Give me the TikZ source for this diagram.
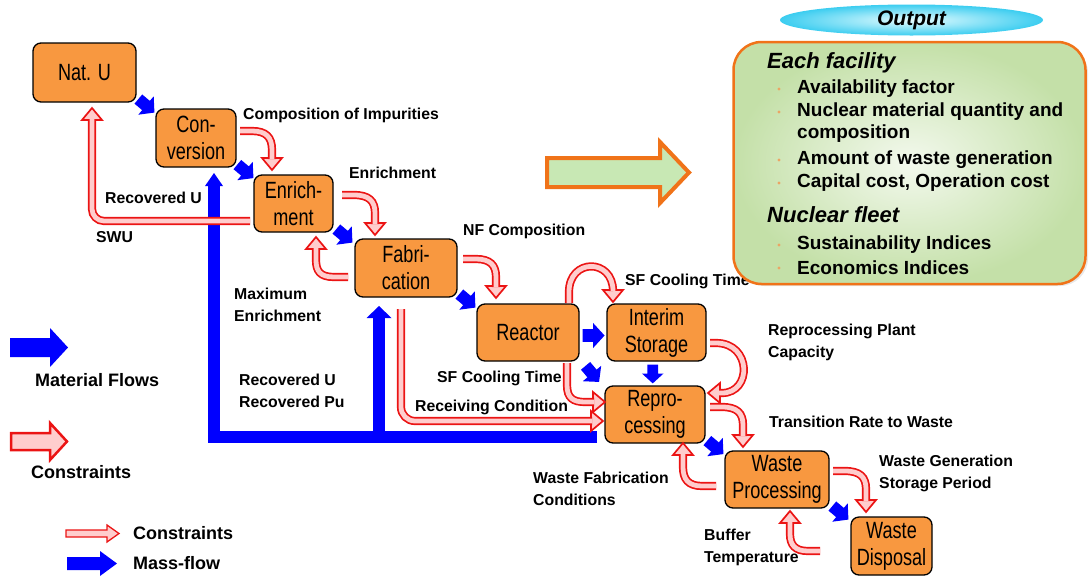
\documentclass[tikz,border=0pt]{standalone}
\usepackage{fontspec}
\setmainfont{Liberation Sans}
\newfontfamily\boxfont[FakeStretch=0.77]{Liberation Sans}
\usetikzlibrary{calc,shapes.geometric}

\definecolor{boxor}{RGB}{248,152,64}
\definecolor{conred}{RGB}{235,20,20}
\definecolor{conpink}{RGB}{255,205,205}
\definecolor{mblue}{RGB}{0,0,255}
\definecolor{outgreen}{RGB}{196,224,168}
\definecolor{outor}{RGB}{240,115,25}
\definecolor{arrgreen}{RGB}{200,232,180}
\definecolor{cyanout}{RGB}{60,205,240}
\definecolor{cyanin}{RGB}{230,252,255}
\definecolor{bulor}{RGB}{235,165,100}

\newcommand\conhead[2]{\draw[conhd,shift={(#1)},rotate=#2] (0,0) -- (-12,10) -- (-12,-10) -- cycle;}
\newcommand\mflow[3]{\fill[mblue,shift={(#1)},rotate=#2,scale=#3] (-10,-6) -- (0,-6) -- (0,-12) -- (11,0) -- (0,12) -- (0,6) -- (-10,6) -- cycle;}
\newcommand\mhead[4]{\fill[mblue,shift={(#1)},rotate=#2] (0,0) -- (-#3,#4) -- (-#3,-#4) -- cycle;}

\begin{document}
\begin{tikzpicture}[x=1pt,y=-1pt,
  boxn/.style={draw=black, line width=1.3pt, fill=boxor, rounded corners=8pt,
    align=center, inner sep=0pt, outer sep=0pt,
    font=\boxfont\fontsize{23.5}{27}\selectfont},
  lab/.style={anchor=west, inner sep=0pt, align=left,
    font=\fontsize{15.8}{22}\selectfont\bfseries},
  leg/.style={anchor=west, inner sep=0pt, font=\fontsize{18}{22}\selectfont\bfseries},
  outh/.style={anchor=west, inner sep=0pt, font=\fontsize{22}{26}\selectfont\bfseries\itshape},
  outi/.style={anchor=west, inner sep=0pt, font=\fontsize{19}{23}\selectfont\bfseries},
  cons/.style={draw=conred, line width=1.7pt, double=conpink, double distance=4.8pt},
  conhd/.style={fill=conpink, draw=conred, line width=1.7pt, line join=miter},
  massline/.style={draw=mblue, line width=12pt, line join=miter}]

\useasboundingbox (0,0) rectangle (1089,576);

% ---------------- boxes
\node[boxn, minimum width=103pt, minimum height=59pt] (natu) at (84.5,72.5) {Nat. U};
\node[boxn, minimum width=80pt, minimum height=58pt] (conv) at (196,138) {Con-\\version};
\node[boxn, minimum width=79pt, minimum height=57pt] (enr) at (293.5,203.5) {Enrich-\\ment};
\node[boxn, minimum width=102pt, minimum height=58pt] (fab) at (406,268) {Fabri-\\cation};
\node[boxn, minimum width=102pt, minimum height=57pt] (reac) at (528,332.5) {Reactor};
\node[boxn, minimum width=99pt, minimum height=57pt] (inter) at (656.5,332.5) {Interim\\Storage};
\node[boxn, minimum width=100pt, minimum height=57pt] (repro) at (655,414.5) {Repro-\\cessing};
\node[boxn, minimum width=104pt, minimum height=57pt] (wproc) at (777,479.5) {Waste\\Processing};
\node[boxn, minimum width=81pt, minimum height=58pt] (wdisp) at (891.5,546) {Waste\\Disposal};

% ---------------- mass flows (blue)
\coordinate (m1) at ($(natu.south east)!0.5!(conv.north west)$);
\coordinate (m2) at ($(conv.south east)!0.5!(enr.north west)$);
\coordinate (m3) at ($(enr.south east)!0.5!(fab.north west)$);
\coordinate (m4) at ($(fab.south east)!0.5!(reac.north west)$);
\coordinate (m5) at ([shift={(0,3)}]$(reac.east)!0.5!(inter.west)$);
\coordinate (m6) at ($(reac.south east)!0.5!(repro.north west)$);
\coordinate (m7) at ([shift={(-3,0)}]$(inter.south)!0.5!(repro.north)$);
\coordinate (m8) at ($(repro.south east)!0.5!(wproc.north west)$);
\coordinate (m9) at ($(wproc.south east)!0.5!(wdisp.north west)$);
\mflow{m1}{-40}{1}
\mflow{m2}{-40}{1}
\mflow{m3}{-40}{1}
\mflow{m4}{-40}{1}
\mflow{m5}{0}{1.05}
\mflow{m6}{-50}{1}
\mflow{m7}{-90}{0.9}
\mflow{m8}{-40}{1}
\mflow{m9}{-40}{1}

\coordinate (ml1) at ([shift={(18,6)}]conv.south);
\coordinate (ml2) at ([shift={(-27,9)}]fab.south);
\draw[massline] ([shift={(-8,22)}]repro.west) -- (214,436.5) -- ([shift={(0,12)}]ml1);
\draw[massline] (379,436.5) -- ([shift={(0,11)}]ml2);
\mhead{ml1}{90}{13}{9}
\mhead{ml2}{90}{12}{12.5}

% ---------------- constraints (red)
\coordinate (t1) at ([shift={(-21.5,-5)}]enr.north);
\conhead{t1}{-90}
\draw[cons] ([shift={(4,-7)}]conv.east) -- (252,131) .. controls (266,131) and (272,137) .. (272,150) -- ([shift={(0,-11)}]t1);

\coordinate (t2) at ([shift={(-31,-4)}]fab.north);
\conhead{t2}{-90}
\draw[cons] ([shift={(9,-8.5)}]enr.east) -- (354,195) .. controls (369,195) and (375,201) .. (375,213) -- ([shift={(0,-11)}]t2);

\coordinate (t3) at ([shift={(22.5,5)}]enr.south);
\conhead{t3}{90}
\draw[cons] ([shift={(-7,9)}]fab.west) -- (334,277) .. controls (320,277) and (316,271) .. (316,260) -- ([shift={(0,11)}]t3);

\coordinate (t4) at ([shift={(7.5,6)}]natu.south);
\conhead{t4}{90}
\draw[cons, rounded corners=12pt] ([shift={(-4,17.5)}]enr.west) -- (92,221) -- ([shift={(0,11)}]t4);

\coordinate (t5) at ([shift={(-32,-6)}]reac.north);
\conhead{t5}{-90}
\draw[cons] ([shift={(6,-9)}]fab.east) -- (476,259) .. controls (490,259) and (496,265) .. (496,277) -- ([shift={(0,-11)}]t5);

\coordinate (t6) at ([shift={(-43.5,-2)}]inter.north);
\conhead{t6}{-90}
\draw[cons] ([shift={(41,-1)}]reac.north) -- (569,292) .. controls (569,258) and (613,258) .. ([shift={(0,-11)}]t6);

\coordinate (t7) at ([shift={(0,-12.5)}]repro.west);
\conhead{t7}{0}
\draw[cons] ([shift={(39,2)}]reac.south) -- (567,385) .. controls (567,398) and (573,402) .. (585,402) -- ([shift={(-11,0)}]t7);

\coordinate (t8) at ([shift={(-2,6.5)}]repro.west);
\conhead{t8}{0}
\draw[cons, rounded corners=14pt] ([shift={(-5,12)}]fab.south) -- (401,421) -- ([shift={(-11,0)}]t8);

\coordinate (t9) at ([shift={(3,-21.5)}]repro.east);
\conhead{t9}{180}
\draw[cons] ([shift={(4,10.5)}]inter.east) -- (716,343) .. controls (752,343) and (752,393) .. (722,393) -- ([shift={(11,0)}]t9);

\coordinate (t10) at ([shift={(-34,-4)}]wproc.north);
\conhead{t10}{-90}
\draw[cons] ([shift={(5,-7.5)}]repro.east) -- (722,407) .. controls (737,407) and (743,413) .. (743,425) -- ([shift={(0,-11)}]t10);

\coordinate (t11) at ([shift={(28,0)}]repro.south);
\conhead{t11}{90}
\draw[cons] ([shift={(-9,6.5)}]wproc.west) -- (702,486) .. controls (688,486) and (683,479) .. (683,467) -- ([shift={(0,11)}]t11);

\coordinate (t12) at ([shift={(-25.5,-5)}]wdisp.north);
\conhead{t12}{-90}
\draw[cons] ([shift={(4,-8.5)}]wproc.east) -- (845,471) .. controls (860,471) and (866,477) .. (866,489) -- ([shift={(0,-11)}]t12);

\coordinate (bt) at (820,551);
\coordinate (t13) at ([shift={(13,3)}]wproc.south);
\conhead{t13}{90}
\draw[cons] (bt) -- (808,551) .. controls (795,551) and (790,545) .. (790,534) -- ([shift={(0,11)}]t13);

% ---------------- labels
\node[lab] (l1) at (243,115) {Composition of Impurities};
\node[lab] (l2) at (349,173) {Enrichment};
\node[lab] (l3) at (105,198) {Recovered U};
\node[lab] (l4) at (96,237) {SWU};
\node[lab] (l5) at (463,231) {NF Composition};
\node[lab] (l6) at (234,305) {Maximum\\Enrichment};
\node[lab] (l7) at (625,281) {SF Cooling Time};
\node[lab] (l8) at (239,390.5) {Recovered U\\Recovered Pu};
\node[lab] (l9) at (437,378) {SF Cooling Time};
\node[lab] (l10) at (415,407) {Receiving Condition};
\node[lab] (l11) at (768,342) {Reprocessing Plant\\Capacity};
\node[lab] (l12) at (769,422) {Transition Rate to Waste};
\node[lab] (l13) at (533,489) {Waste Fabrication\\Conditions};
\node[lab] (l14) at (879,473) {Waste Generation\\Storage Period};
\node[lab] (l15) at (704,547.5) {Buffer\\Temperature};

% ---------------- legends
\fill[mblue] (10,338) -- (50,338) -- (50,328) -- (68,347.5) -- (50,367) -- (50,357) -- (10,357) -- cycle;
\node[leg] (lg1) at (35,380) {Material Flows};
\draw[fill=conpink, draw=conred, line width=2.5pt, line join=miter] (11,433) -- (50,433) -- (50,423) -- (67,441.5) -- (50,460) -- (50,450) -- (11,450) -- cycle;
\node[leg] (lg2) at (31,472) {Constraints};
\draw[fill=conpink, draw=conred, line width=1.3pt, line join=miter] (66,530) -- (107,530) -- (107,525) -- (119,533.5) -- (107,542) -- (107,537) -- (66,537) -- cycle;
\node[leg] (lg3) at (133,533) {Constraints};
\fill[mblue] (67,557) -- (100,557) -- (100,551) -- (117,563.5) -- (100,576) -- (100,570) -- (67,570) -- cycle;
\node[leg] (lg4) at (133,563) {Mass-flow};

% ---------------- output
\draw[fill=arrgreen, draw=outor, line width=4pt, line join=miter] (547,158) -- (660,158) -- (660,142) -- (689,172.5) -- (660,203) -- (660,187) -- (547,187) -- cycle;

\node[ellipse, draw=none, inner color=cyanin, outer color=cyanout, minimum width=263pt, minimum height=31pt, inner sep=0pt,
  font=\fontsize{21}{24}\selectfont\bfseries\itshape] (outl) at (911.5,20) {Output};
\fill[black!9, rounded corners=28pt] (736,45) rectangle (1088,286);
\node[rectangle, rounded corners=28pt, draw=outor, line width=2.5pt, inner color=white!80!outgreen, outer color=outgreen,
  minimum width=352pt, minimum height=242pt] (outb) at (909.5,163) {};

\node[outh] (oh1) at (767,63) {Each facility};
\node[outh] (oh2) at (767,215) {Nuclear fleet};
\foreach \yy in {89,112,160,183,245,268} {\fill[bulor] (779,\yy) circle[radius=1.7pt];}
\node[outi] (oi1) at (797,89) {Availability factor};
\node[outi] (oi2) at (797,112) {Nuclear material quantity and};
\node[outi] (oi3) at (797,134) {composition};
\node[outi] (oi4) at (797,160) {Amount of waste generation};
\node[outi] (oi5) at (797,183) {Capital cost, Operation cost};
\node[outi] (oi6) at (797,245) {Sustainability Indices};
\node[outi] (oi7) at (797,268) {Economics Indices};

\end{tikzpicture}
\end{document}
